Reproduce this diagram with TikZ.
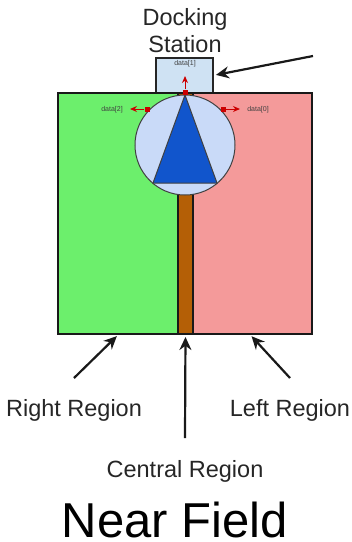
\documentclass[tikz,border=0pt]{standalone}
\usepackage{fontspec}
\setmainfont{Liberation Sans}
\usepackage{xcolor}
\usetikzlibrary{arrows.meta,positioning,calc}

\definecolor{rightgreen}{HTML}{6CEF6C}
\definecolor{leftpink}{HTML}{F49A9A}
\definecolor{centralbrown}{HTML}{B45F06}
\definecolor{dockblue}{HTML}{CFE2F3}
\definecolor{robotblue}{HTML}{C9DAF8}
\definecolor{noseblue}{HTML}{1155CC}
\definecolor{markred}{HTML}{CC0000}

\begin{document}
\begin{tikzpicture}[
    x=1pt, y=-1pt,
    region/.style={rectangle, draw=black!90, line width=2.8pt, inner sep=0pt, outer sep=0pt, minimum height=241pt},
    caption/.style={font=\fontsize{23.5}{27}\selectfont, text=black!85, align=center, inner sep=0pt},
    datalabel/.style={font=\fontsize{7}{8}\selectfont, text=black!75, inner sep=0pt},
    pointer/.style={-{Stealth[length=13pt,width=12pt]}, line width=2.2pt, black!90},
    datamark/.style={rectangle, fill=markred, inner sep=0pt, minimum size=5pt},
    dataarrow/.style={-{Stealth[length=7pt,width=6pt]}, line width=1pt, markred}
]
    \useasboundingbox (0,0) rectangle (352,542);

    % regions
    \node[region, fill=rightgreen, minimum width=120pt] (rightregion) at (118,213.5) {};
    \node[region, fill=leftpink, minimum width=119pt] (leftregion) at (252.5,213.5) {};
    \node[region, fill=centralbrown, minimum width=15pt] (centralregion) at (185.5,213.5) {};

    % docking station
    \node[rectangle, draw=black!85, line width=2.4pt, fill=dockblue, minimum width=57pt, minimum height=35pt, inner sep=0pt, outer sep=0pt] (dock) at (184.5,75.5) {};
    \draw[line width=2.8pt, black!90] (rightregion.north west) -- (leftregion.north east);

    % robot
    \node[circle, draw=black!75, line width=1pt, fill=robotblue, minimum size=100pt, inner sep=0pt] (robot) at (185,145) {};
    \coordinate (noseapex) at (185,95);
    \coordinate (noseleft) at (153,183);
    \coordinate (noseright) at (217,183);
    \draw[line width=1pt, black!75, fill=noseblue] (noseapex) -- (noseright) -- (noseleft) -- cycle;

    % data points
    \node[datamark] (mark1) at (185,92) {};
    \node[datamark] (mark2) at (147,109) {};
    \node[datamark] (mark0) at (223,109) {};
    \coordinate (tip1) at (185,76);
    \coordinate (tip2) at (130,109);
    \coordinate (tip0) at (240,109);
    \draw[dataarrow] (mark1) -- (tip1);
    \draw[dataarrow] (mark2) -- (tip2);
    \draw[dataarrow] (mark0) -- (tip0);
    \node[datalabel] (data1) at (185,63.5) {data[1]};
    \node[datalabel] (data2) at (112,109.5) {data[2]};
    \node[datalabel] (data0) at (258,109.5) {data[0]};

    % captions
    \node[caption] (docklabel) at (185,30.5) {Docking\\Station};
    \node[caption] (rightlabel) at (74,410) {Right Region};
    \node[caption] (leftlabel) at (290,410) {Left Region};
    \node[caption] (centrallabel) at (185,471) {Central Region};
    \node[font=\fontsize{49}{55}\selectfont, text=black, inner sep=0pt, anchor=base] (title) at (175,537) {Near Field};

    % pointers
    \coordinate (docktail) at (313,56);
    \coordinate (righttail) at (74,378);
    \coordinate (lefttail) at (290,378);
    \coordinate (centraltail) at (185,438);
    \draw[pointer, shorten >=3pt] (docktail) -- (dock.east);
    \draw[pointer, shorten >=3pt] (righttail) -- ([xshift=1pt]rightregion.south);
    \draw[pointer, shorten >=3pt] (lefttail) -- ([xshift=-3pt]leftregion.south);
    \draw[pointer, shorten >=3pt] (centraltail) -- (centralregion.south);
\end{tikzpicture}
\end{document}
